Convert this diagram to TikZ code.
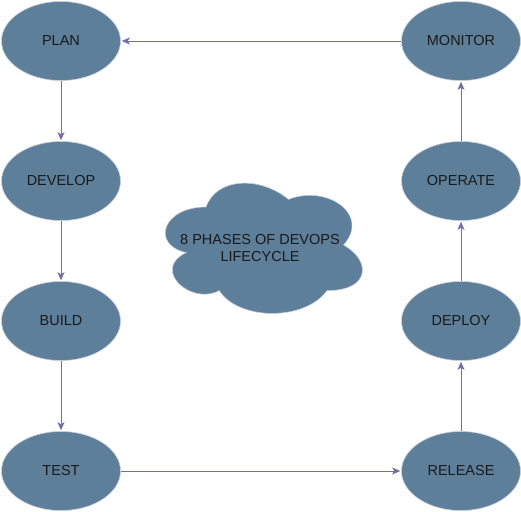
\documentclass[tikz,border=0pt]{standalone}
\usepackage{fontspec}
\setmainfont{Liberation Sans}
\usetikzlibrary{shapes.geometric,arrows.meta}
\definecolor{phasefill}{HTML}{5D7F99}
\definecolor{phaseline}{HTML}{C8CCDA}
\definecolor{edgecol}{HTML}{736CA8}
\definecolor{txt}{HTML}{1A1A1A}
\begin{document}
\begin{tikzpicture}[x=1pt,y=-1pt,
  phase/.style={ellipse,fill=phasefill,draw=phaseline,line width=0.6pt,
    minimum width=119pt,minimum height=79pt,inner sep=0pt,
    font=\fontsize{14.5}{17}\selectfont,text=txt},
  arr/.style={draw=edgecol,line width=0.8pt,
    -{Stealth[length=8pt,width=7pt,inset=2pt]},shorten >=1pt}]
\useasboundingbox (0,0) rectangle (521,511);
% nodes
\node[phase] (plan) at (61,41) {PLAN};
\node[phase] (develop) at (61,181) {DEVELOP};
\node[phase] (build) at (61,321) {BUILD};
\node[phase] (test) at (61,471) {TEST};
\node[phase] (monitor) at (461,41) {MONITOR};
\node[phase] (operate) at (461,181) {OPERATE};
\node[phase] (deploy) at (461,321) {DEPLOY};
\node[phase] (release) at (461,471) {RELEASE};
% cloud
\begin{scope}[shift={(151,169)},x=220pt,y=-152pt]
\path[fill=phasefill,draw=phaseline,line width=0.6pt]
  (0.25,0.25) .. controls (0.05,0.25) and (0,0.5) .. (0.16,0.55)
  .. controls (0,0.66) and (0.18,0.9) .. (0.31,0.8)
  .. controls (0.4,1) and (0.7,1) .. (0.8,0.8)
  .. controls (1,0.8) and (1,0.6) .. (0.875,0.5)
  .. controls (1,0.3) and (0.8,0.1) .. (0.625,0.2)
  .. controls (0.5,0.05) and (0.3,0.05) .. (0.25,0.25) -- cycle;
\end{scope}
\node[align=center,font=\fontsize{14.5}{17}\selectfont,text=txt] (title) at (260,248)
  {8 PHASES OF DEVOPS\\LIFECYCLE};
% connectors
\draw[arr] (plan) -- (develop);
\draw[arr] (develop) -- (build);
\draw[arr] (build) -- (test);
\draw[arr] (test) -- (release);
\draw[arr] (release) -- (deploy);
\draw[arr] (deploy) -- (operate);
\draw[arr] (operate) -- (monitor);
\draw[arr] (monitor) -- (plan);
\end{tikzpicture}
\end{document}
